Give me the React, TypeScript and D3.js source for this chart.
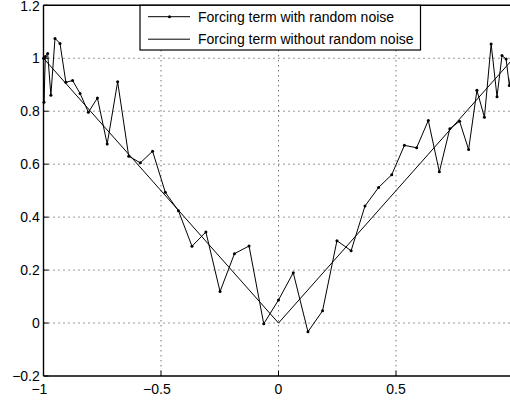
import React from 'react';
import * as d3 from 'd3';

const xTicks = [-1, -0.5, 0, 0.5, 1];
const xTickLabels = ['\u22121', '\u22120.5', '0', '0.5', '1'];
const yTicks = [-0.2, 0, 0.2, 0.4, 0.6, 0.8, 1, 1.2];
const yTickLabels = ['\u22120.2', '0', '0.2', '0.4', '0.6', '0.8', '1', '1.2'];

const noiseX = [
  -1, -0.998, -0.9921, -0.9823, -0.9686, -0.9511, -0.9298, -0.9048, -0.8763, -0.8443,
  -0.809, -0.7705, -0.729, -0.6845, -0.6374, -0.5878, -0.5358, -0.4818, -0.4258, -0.3681,
  -0.309, -0.2487, -0.1874, -0.1253, -0.0628, 0, 0.0628, 0.1253, 0.1874, 0.2487,
  0.309, 0.3681, 0.4258, 0.4818, 0.5358, 0.5878, 0.6374, 0.6845, 0.729, 0.7705,
  0.809, 0.8443, 0.8763, 0.9048, 0.9298, 0.9511, 0.9686, 0.9823, 0.9921, 0.998, 1,
];
const noiseY = [
  1.0, 0.834, 1.007, 1.018, 0.86, 1.075, 1.056, 0.909, 0.916, 0.867,
  0.796, 0.85, 0.676, 0.911, 0.63, 0.605, 0.649, 0.494, 0.424, 0.29,
  0.344, 0.119, 0.262, 0.291, -0.003, 0.087, 0.19, -0.033, 0.046, 0.311,
  0.273, 0.442, 0.512, 0.56, 0.671, 0.662, 0.765, 0.571, 0.734, 0.762,
  0.655, 0.879, 0.777, 1.054, 0.855, 1.01, 0.997, 0.897, 0.96, 1.0, 1.0,
];
const cleanX = [-1, 0, 1];
const cleanY = [1, 0, 1];
const legendLabels = ['Forcing term with random noise', 'Forcing term without random noise'];

// Arial/Liberation Sans advance widths (em) for label pieces
function labelWidth(s: string, fs: number) {
  let w = 0;
  for (const ch of s) {
    if (ch === '.') w += 0.278;
    else if (ch === '\u2212') w += 0.584;
    else w += 0.556;
  }
  return w * fs;
}

export default function App() {
  const W = 510;
  const H = 401;
  const left = 43.5;
  const right = 513.5;
  const top = 5.3;
  const bottom = 376;
  const x = d3.scaleLinear().domain([-1, 1]).range([left, right]);
  const y = d3.scaleLinear().domain([-0.2, 1.2]).range([bottom, top]);
  const line = d3.line<[number, number]>().x((d) => x(d[0])).y((d) => y(d[1]));
  const noisePts: [number, number][] = noiseX.map((v, i) => [v, noiseY[i]]);
  const cleanPts: [number, number][] = cleanX.map((v, i) => [v, cleanY[i]]);
  const font = 'Liberation Sans, Arial, Helvetica, sans-serif';
  const fs = 14;

  const lg = { x0: 140, y0: 5.3, x1: 420.5, y1: 50 };
  const rows = [16.7, 39.2];

  return (
    <svg width={W} height={H} style={{ position: 'fixed', left: 0, top: 0, background: '#fff' }}>
      <rect x={0} y={0} width={W} height={H} fill="#fff" />
      {/* grid */}
      <g stroke="#333" strokeWidth={1} strokeDasharray="1 4">
        {xTicks.filter((t) => t > -1 && t < 1).map((t) => (
          <line key={'gx' + t} x1={x(t)} x2={x(t)} y1={top} y2={bottom} />
        ))}
        {yTicks.filter((t) => t > -0.2 && t < 1.2).map((t) => (
          <line key={'gy' + t} x1={left} x2={right} y1={y(t)} y2={y(t)} />
        ))}
      </g>
      {/* tick marks */}
      <g stroke="#000" strokeWidth={1}>
        {xTicks.map((t) => (
          <g key={'tx' + t}>
            <line x1={x(t)} x2={x(t)} y1={bottom} y2={bottom - 5} />
            <line x1={x(t)} x2={x(t)} y1={top} y2={top + 5} />
          </g>
        ))}
        {yTicks.map((t) => (
          <line key={'ty' + t} x1={left} x2={left + 5} y1={y(t)} y2={y(t)} />
        ))}
      </g>
      {/* data */}
      <path d={line(cleanPts) || ''} fill="none" stroke="#000" strokeWidth={1} />
      <path d={line(noisePts) || ''} fill="none" stroke="#000" strokeWidth={1} />
      {noisePts.map((p, i) => (
        <circle key={'m' + i} cx={x(p[0])} cy={y(p[1])} r={1.5} fill="#000" />
      ))}
      {/* axes box */}
      <g stroke="#000" strokeWidth={1.4} fill="none">
        <line x1={left} x2={left} y1={top} y2={bottom} />
        <line x1={left} x2={right} y1={bottom} y2={bottom} />
        <line x1={left} x2={right} y1={top} y2={top} />
        <line x1={right} x2={right} y1={top} y2={bottom} />
      </g>
      {/* tick labels */}
      <g fontFamily={font} fontSize={fs} fill="#000">
        {xTicks.map((t, i) => {
          if (t >= 1) return null;
          const lab = xTickLabels[i];
          const neg = lab.startsWith('\u2212');
          const num = neg ? lab.slice(1) : lab;
          const cx = x(t);
          return (
            <g key={'lx' + t}>
              <text x={cx} y={393.5} textAnchor="middle">{num}</text>
              {neg ? (
                <text x={cx - labelWidth(num, fs) / 2} y={393.5} textAnchor="end">{'\u2212'}</text>
              ) : null}
            </g>
          );
        })}
        {yTicks.map((t, i) => (
          <text key={'ly' + t} x={39.8} y={y(t) + 5.2} textAnchor="end">{yTickLabels[i]}</text>
        ))}
      </g>
      {/* legend */}
      <g>
        <rect x={lg.x0} y={lg.y0} width={lg.x1 - lg.x0} height={lg.y1 - lg.y0} fill="#fff" stroke="#000" strokeWidth={1.2} />
        <line x1={148} x2={190} y1={rows[0]} y2={rows[0]} stroke="#000" strokeWidth={1} />
        <circle cx={169.5} cy={rows[0]} r={1.5} fill="#000" />
        <line x1={148} x2={190} y1={rows[1]} y2={rows[1]} stroke="#000" strokeWidth={1} />
        <g fontFamily={font} fontSize={14} fill="#000">
          <text x={198} y={rows[0] + 5}>{legendLabels[0]}</text>
          <text x={198} y={rows[1] + 5}>{legendLabels[1]}</text>
        </g>
      </g>
    </svg>
  );
}
